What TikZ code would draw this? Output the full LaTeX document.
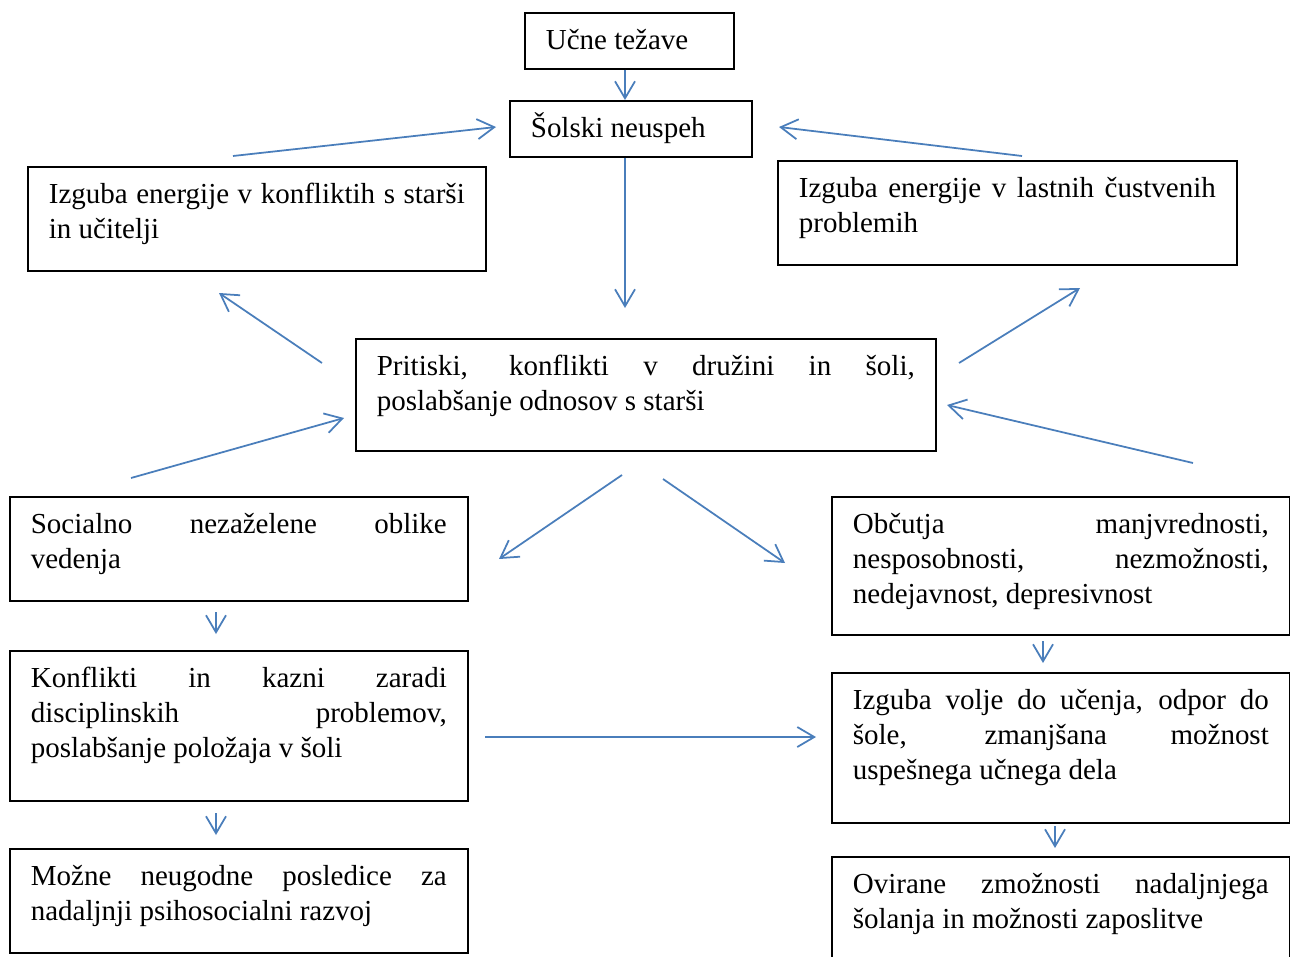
\documentclass[tikz,border=0pt]{standalone}
\usepackage{fontspec}
\setmainfont{Liberation Serif}
\usepackage{tikz}
\usetikzlibrary{arrows.meta}
\definecolor{puscb}{HTML}{4A7EBB}
\newcommand{\vsebina}[3]{\parbox[t][#1][t]{#2}{\rule{0pt}{0.74cm}#3}}
\hyphenpenalty=10000
\hbadness=10000
\tikzset{
  okvir/.style={rectangle, draw=black, line width=1pt, anchor=north west,
                inner xsep=0.42cm, inner ysep=0pt, font=\fontsize{16.5}{19.9}\selectfont},
  puscica/.style={-{Straight Barb[length=3.4mm,width=4mm]}, line width=1pt, draw=puscb},
}
\begin{document}
\begin{tikzpicture}[x=0.02cm, y=-0.02cm]
    \useasboundingbox (0,0) rectangle (1290,956);
    \node[okvir] (tez) at (524,12) {\vsebina{1.12cm}{3.34cm}{Učne težave}};
    \node[okvir] (neu) at (509,100) {\vsebina{1.12cm}{4.0cm}{Šolski neuspeh}};
    \node[okvir] (enk) at (27,166)
      {\vsebina{2.08cm}{8.32cm}{Izguba energije v konfliktih s starši\linebreak in učitelji}};
    \node[okvir] (ecu) at (777,160)
      {\vsebina{2.08cm}{8.34cm}{Izguba energije v lastnih čustvenih\linebreak problemih}};
    \node[okvir] (prit) at (355,338)
      {\vsebina{2.24cm}{10.76cm}{Pritiski, konflikti v družini in šoli,\linebreak poslabšanje odnosov s starši}};
    \node[okvir] (soc) at (9,496)
      {\vsebina{2.08cm}{8.32cm}{Socialno nezaželene oblike\linebreak vedenja}};
    \node[okvir] (obc) at (831,496)
      {\vsebina{2.76cm}{8.32cm}{Občutja manjvrednosti,\linebreak nesposobnosti, nezmožnosti,\linebreak nedejavnost, depresivnost}};
    \node[okvir] (konf) at (9,650)
      {\vsebina{3.0cm}{8.32cm}{Konflikti in kazni zaradi\linebreak disciplinskih problemov,\linebreak poslabšanje položaja v šoli}};
    \node[okvir] (volja) at (831,672)
      {\vsebina{3.0cm}{8.32cm}{Izguba volje do učenja, odpor do\linebreak šole, zmanjšana možnost\linebreak uspešnega učnega dela}};
    \node[okvir] (posl) at (9,848)
      {\vsebina{2.08cm}{8.32cm}{Možne neugodne posledice za\linebreak nadaljnji psihosocialni razvoj}};
    \node[okvir] (ovir) at (831,856)
      {\vsebina{2.08cm}{8.32cm}{Ovirane zmožnosti nadaljnjega\linebreak šolanja in možnosti zaposlitve}};

    \coordinate (sr) at (625,308);
    \coordinate (l1) at (233,156);  \coordinate (l2) at (496,127);
    \coordinate (d1) at (1022,156); \coordinate (d2) at (779,127);
    \coordinate (e1) at (322,363);  \coordinate (e2) at (219,293);
    \coordinate (f1) at (959,363);  \coordinate (f2) at (1080,288);
    \coordinate (g1) at (131,478);  \coordinate (g2) at (344,418);
    \coordinate (h1) at (1193,463); \coordinate (h2) at (947,405);
    \coordinate (i1) at (622,475);  \coordinate (i2) at (499,559);
    \coordinate (j1) at (663,479);  \coordinate (j2) at (785,563);
    \coordinate (o1) at (485,737);  \coordinate (o2) at (816,737);
    \coordinate (k1) at (216,612);  \coordinate (k2) at (216,634);
    \coordinate (m1) at (216,813);  \coordinate (m2) at (216,835);
    \coordinate (n1) at (1043,641); \coordinate (n2) at (1043,663);
    \coordinate (r1) at (1055,826); \coordinate (r2) at (1055,848);

    \draw[puscica] (sr |- tez.south) -- (sr |- neu.north);
    \draw[puscica] (sr |- neu.south) -- (sr);
    \draw[puscica] (l1) -- (l2);
    \draw[puscica] (d1) -- (d2);
    \draw[puscica] (e1) -- (e2);
    \draw[puscica] (f1) -- (f2);
    \draw[puscica] (g1) -- (g2);
    \draw[puscica] (h1) -- (h2);
    \draw[puscica] (i1) -- (i2);
    \draw[puscica] (j1) -- (j2);
    \draw[puscica] (o1) -- (o2);
    \draw[puscica] (k1) -- (k2);
    \draw[puscica] (m1) -- (m2);
    \draw[puscica] (n1) -- (n2);
    \draw[puscica] (r1) -- (r2);
  \end{tikzpicture}
\end{document}
